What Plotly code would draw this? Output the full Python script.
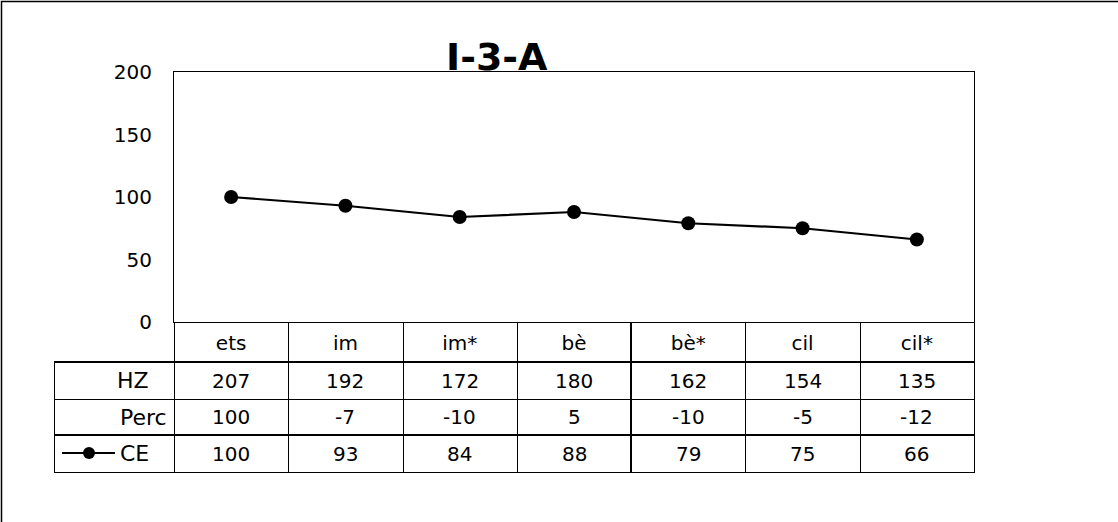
import plotly.graph_objects as go

# Chart data
categories = ["ets", "im", "im*", "bè", "bè*", "cil", "cil*"]
hz_values = [207, 192, 172, 180, 162, 154, 135]
perc_values = [100, -7, -10, 5, -10, -5, -12]
ce_values = [100, 93, 84, 88, 79, 75, 66]
row_labels = ["HZ", "Perc", "CE"]
y_ticks = [0, 50, 100, 150, 200]
title_text = "I-3-A"

W, H = 1118, 522
PL, PR, PT, PB = 174, 974, 72, 322   # plot box in pixels

FONT = "DejaVu Sans"


def px(x):
    return (x - PL) / (PR - PL)


def py(y):
    return (PB - y) / (PB - PT)


def crisp(v, w):
    # snap a line centre so odd-width strokes land on whole pixels
    return round(v) + (0.5 if w % 2 == 1 else 0.0)


fig = go.Figure()
fig.add_trace(go.Scatter(
    x=list(range(len(categories))), y=ce_values,
    mode="lines+markers",
    line=dict(color="black", width=2.2),
    marker=dict(color="black", size=14),
    showlegend=False, hoverinfo="skip",
))

shapes = []
annotations = []

# outer frame
shapes.append(dict(type="rect", xref="paper", yref="paper",
                   x0=px(1.5), x1=px(1200), y0=py(1.5), y1=py(600),
                   line=dict(color="black", width=1.5)))

# table rows (pixel boundaries)
row_lines = [362, 399, 435, 472]
row_widths = [2, 1, 2, 1]
for yl, w in zip(row_lines, row_widths):
    yc = crisp(yl, w)
    shapes.append(dict(type="line", xref="paper", yref="paper",
                       x0=px(54), x1=px(975), y0=py(yc), y1=py(yc),
                       line=dict(color="black", width=w)))
# left border of label column
shapes.append(dict(type="line", xref="paper", yref="paper",
                   x0=px(54.5), x1=px(54.5), y0=py(362), y1=py(472),
                   line=dict(color="black", width=1)))
# column separators through the table
n = len(categories)
for i in range(1, n):
    w = 2 if i == 4 else 1
    xc = crisp(PL + i * (PR - PL) / n, w)
    shapes.append(dict(type="line", xref="paper", yref="paper",
                       x0=px(xc), x1=px(xc), y0=py(PB), y1=py(472),
                       line=dict(color="black", width=w)))
for xe in (PL, PR):
    shapes.append(dict(type="line", xref="paper", yref="paper",
                       x0=px(xe + 0.5), x1=px(xe + 0.5), y0=py(PB), y1=py(472.5),
                       line=dict(color="black", width=1)))

# table cell text
row_centers = [380.5, 417, 453.5]
for vals, yc in zip([hz_values, perc_values, ce_values], row_centers):
    for i, v in enumerate(vals):
        annotations.append(dict(xref="x", yref="paper", x=i, y=py(yc),
                                text=str(v), showarrow=False,
                                font=dict(family=FONT, size=20, color="black"),
                                xanchor="center", yanchor="middle"))

# row labels
label_font = dict(family=FONT, size=22, color="black")
annotations.append(dict(xref="paper", yref="paper", x=px(151), y=py(380.5),
                        text=row_labels[0], showarrow=False, xanchor="right",
                        yanchor="middle", font=label_font))
annotations.append(dict(xref="paper", yref="paper", x=px(169), y=py(417),
                        text=row_labels[1], showarrow=False, xanchor="right",
                        yanchor="middle", font=label_font))
annotations.append(dict(xref="paper", yref="paper", x=px(118), y=py(453.5),
                        text=row_labels[2], showarrow=False, xanchor="left",
                        yanchor="middle", font=label_font))

# legend key for CE row
shapes.append(dict(type="line", xref="paper", yref="paper",
                   x0=px(62), x1=px(115), y0=py(453), y1=py(453),
                   line=dict(color="black", width=2)))
shapes.append(dict(type="circle", xref="paper", yref="paper",
                   x0=px(83), x1=px(95), y0=py(447), y1=py(459),
                   fillcolor="black", line=dict(color="black", width=0)))

# title
annotations.append(dict(xref="paper", yref="paper", x=px(496.5), y=py(57),
                        text="<b>" + title_text + "</b>", showarrow=False,
                        xanchor="center", yanchor="middle",
                        font=dict(family=FONT, size=38, color="black")))

fig.update_layout(
    width=W, height=H,
    margin=dict(l=PL, r=W - PR, t=PT, b=H - PB),
    paper_bgcolor="white", plot_bgcolor="white",
    shapes=shapes, annotations=annotations,
    xaxis=dict(
        range=[-0.5, n - 0.5],
        tickmode="array", tickvals=list(range(n)), ticktext=categories,
        showgrid=False, zeroline=False, ticks="",
        showline=True, linecolor="black", linewidth=1, mirror=True,
        tickfont=dict(family=FONT, size=20, color="black"),
        ticklabelstandoff=3,
    ),
    yaxis=dict(
        range=[0, 200], tickvals=y_ticks,
        showgrid=False, zeroline=False, ticks="",
        showline=True, linecolor="black", linewidth=1, mirror=True,
        tickfont=dict(family=FONT, size=20, color="black"),
        ticklabelstandoff=17,
    ),
)

fig.write_html("out.html")
